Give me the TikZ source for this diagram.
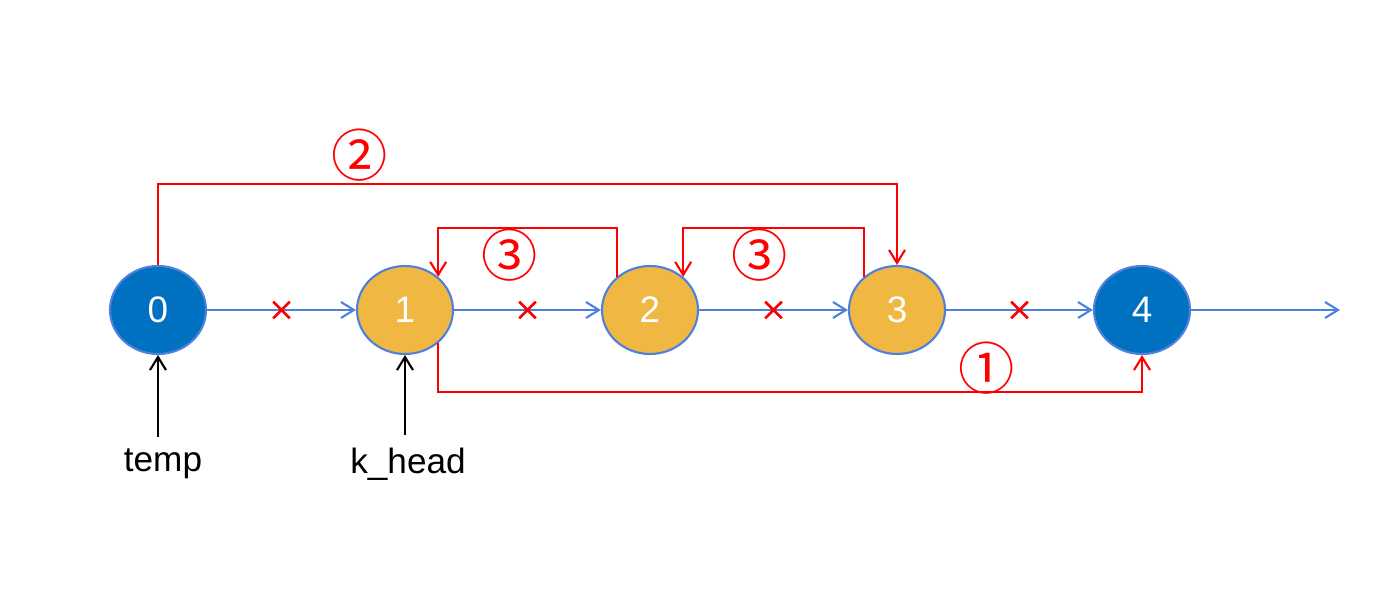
\documentclass[tikz,border=0pt]{standalone}
\usepackage{fontspec}
\setmainfont{Liberation Sans}
\newfontfamily\circfont{Noto Sans CJK SC}
\usetikzlibrary{arrows.meta,shapes.geometric,shapes.misc}
\definecolor{nodeblue}{RGB}{0,112,192}
\definecolor{edgeblue}{RGB}{78,128,222}
\definecolor{nodeorange}{RGB}{240,183,66}
\tikzset{
  elem/.style={ellipse,draw=edgeblue,line width=0.6pt,minimum width=0.96cm,
    minimum height=0.88cm,inner sep=0pt,text=white,font=\fontsize{10.5}{12}\selectfont},
  blueelem/.style={elem,fill=nodeblue},
  orangeelem/.style={elem,fill=nodeorange},
  link/.style={draw=edgeblue,line width=0.6pt,-{Straight Barb[length=1.3mm,width=1.6mm]}},
  relink/.style={draw=red,line width=0.6pt,-{Straight Barb[length=1.3mm,width=1.6mm]}},
  ptr/.style={draw=black,line width=0.6pt,-{Straight Barb[length=1.3mm,width=1.6mm]}},
  broken/.style={cross out,draw=red,line width=0.75pt,minimum size=1.4mm,inner sep=0pt},
  step num/.style={text=red,font=\circfont\fontsize{16}{18}\selectfont}
}
\begin{document}
\begin{tikzpicture}
  \useasboundingbox (0,0) rectangle (14,6);
  % list nodes
  \node[blueelem] (n0) at (1.58,2.9) {0};
  \node[orangeelem] (n1) at (4.05,2.9) {1};
  \node[orangeelem] (n2) at (6.50,2.9) {2};
  \node[orangeelem] (n3) at (8.97,2.9) {3};
  \node[blueelem] (n4) at (11.42,2.9) {4};
  \coordinate (tail) at (13.40,2.9);
  % old links
  \draw[link] (n0) -- node[broken]{} (n1);
  \draw[link] (n1) -- node[broken]{} (n2);
  \draw[link] (n2) -- node[broken]{} (n3);
  \draw[link] (n3) -- node[broken]{} (n4);
  \draw[link] (n4) -- (tail);
  % pointers
  \node (temp) at (1.63,1.36) {temp};
  \node (khead) at (4.08,1.36) {k\_head};
  \draw[ptr] (n0 |- temp.north) -- (n0.south);
  \draw[ptr] (n1 |- khead.north) -- (n1.south);
  % new links
  \draw[relink] (n1.-45) -- (n1.-45 |- 0,2.08) -| (n4.south);
  \draw[relink] (n0.north) -- (n0.north |- 0,4.16) -| (n3.north);
  \draw[relink] (n2.135) -- (n2.135 |- 0,3.72) -| (n1.45);
  \draw[relink] (n3.135) -- (n3.135 |- 0,3.72) -| (n2.45);
  \node[step num] (s1) at (9.87,2.32) {①};
  \node[step num] (s2) at (3.60,4.45) {②};
  \node[step num] (s3a) at (5.10,3.45) {③};
  \node[step num] (s3b) at (7.60,3.45) {③};
\end{tikzpicture}
\end{document}
